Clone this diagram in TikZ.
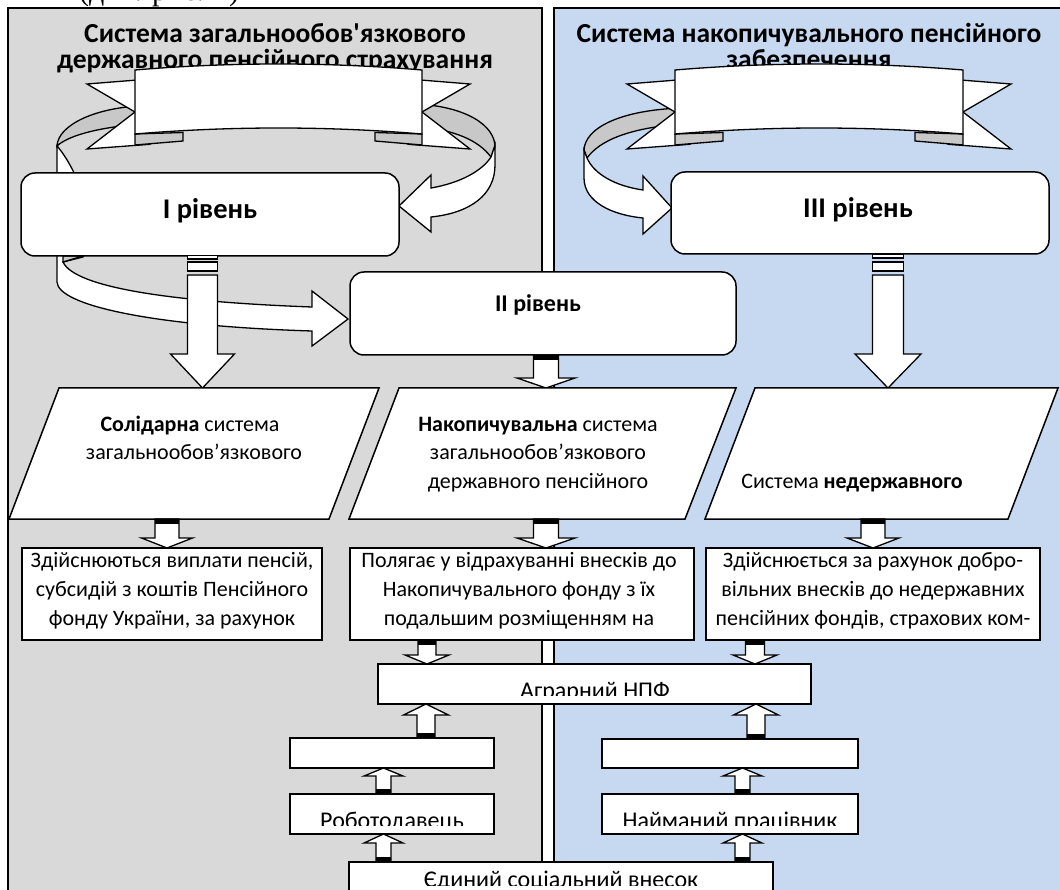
\documentclass[tikz,border=0pt]{standalone}
\usepackage{fontspec}
\setmainfont{Carlito}
\newfontfamily\rawfont{Carlito}
\newfontfamily\serifnote{Liberation Serif}
\usetikzlibrary{calc}
\definecolor{panelgray}{RGB}{217,217,217}
\definecolor{panelblue}{RGB}{198,217,241}
\definecolor{foldgray}{RGB}{200,200,200}
\newcommand{\blkdown}[6]{%
  \path[blk] let \p1=#1, \p2=#2 in
    (\x1-#3pt,\y1) -- (\x1-#3pt,\y2+#5pt) -- (\x1-#4pt,\y2+#5pt) -- (\x1,\y2)
    -- (\x1+#4pt,\y2+#5pt) -- (\x1+#3pt,\y2+#5pt) -- (\x1+#3pt,\y1) -- cycle;
  \fill let \p1=#1 in (\x1-#3pt,\y1) rectangle (\x1+#3pt,\y1-#6pt);}
\newcommand{\blkup}[6]{%
  \path[blk] let \p1=#1, \p2=#2 in
    (\x1-#3pt,\y1) -- (\x1-#3pt,\y2-#5pt) -- (\x1-#4pt,\y2-#5pt) -- (\x1,\y2)
    -- (\x1+#4pt,\y2-#5pt) -- (\x1+#3pt,\y2-#5pt) -- (\x1+#3pt,\y1) -- cycle;
  \fill let \p1=#1 in (\x1-#3pt,\y1) rectangle (\x1+#3pt,\y1+#6pt);}
\begin{document}
\begin{tikzpicture}[x=1pt,y=-1pt,
  box/.style={draw, line width=1.5pt, fill=white, inner sep=0pt, outer sep=0pt},
  rbox/.style={box, rounded corners=14pt},
  rib/.style={draw, line width=1.3pt, fill=white, line join=miter},
  ring/.style={draw, line width=1.3pt, line join=miter},
  blk/.style={draw, line width=1.3pt, fill=white, line join=miter},
  headtxt/.style={font=\bfseries\fontsize{27.5}{27.5}\selectfont, anchor=base, inner sep=0pt},
  lvlbig/.style={font=\bfseries\fontsize{28.5}{28.5}\selectfont, anchor=base, inner sep=0pt},
  lvlsmall/.style={font=\bfseries\fontsize{24}{24}\selectfont, anchor=base, inner sep=0pt},
  ptxt/.style={font=\fontsize{22}{22}\selectfont, anchor=base, inner sep=0pt},
  txt/.style={font=\fontsize{22}{22}\selectfont, anchor=base, inner sep=0pt},
  btxt/.style={font=\fontsize{24}{24}\selectfont, anchor=base, inner sep=0pt},
]
\useasboundingbox (0,0) rectangle (1060,890);
\begin{scope}
\clip (0,0) rectangle (1060,890);
% panels
\draw[fill=panelgray, line width=1.8pt] (8,8) rectangle (542,900);
\draw[fill=panelblue, line width=1.8pt] (554,8) rectangle (1075,900);
% top fragment of text
\node[anchor=base west, inner sep=0pt, font=\serifnote\fontsize{30}{30}\selectfont] (topnote) at (79,1) {(див. рис. 2)};
% headings
\node[headtxt] (h1a) at (275,43) {Система загальнообов{\rawfont'}язкового};
\node[headtxt] (h1b) at (275,69) {державного пенсійного страхування};
\node[headtxt] (h2a) at (809,43) {Система накопичувального пенсійного};
\node[headtxt] (h2b) at (809,69) {забезпечення};

% ===== left ring: back (gray) parts
\draw[ring, fill=foldgray] (140,106) .. controls (95,108) and (58,125) .. (57,146)
   .. controls (68,136) and (95,128) .. (140,124) -- cycle;
\draw[ring, fill=foldgray] (415,104) .. controls (465,106) and (495,125) .. (495,147)
   -- (491,157) .. controls (478,140) and (455,130) .. (415,126) -- cycle;
% left ribbon
\draw[rib] (87,84) -- (150,79) -- (150,144.3) -- (87,149) -- (135,112) -- cycle;
\draw[rib, fill=foldgray] (135,134) -- (183,132.5) -- (183,141) -- (135,145) -- cycle;
\draw[rib] (470,84) -- (408,79) -- (408,144.3) -- (470,149) -- (422,112) -- cycle;
\draw[rib, fill=foldgray] (422,134) -- (375,132.5) -- (375,141) -- (422,145) -- cycle;
\draw[rib] (135,70) .. controls (230,62) and (327,62) .. (422,70) -- (422,134)
   .. controls (327,126) and (230,126) .. (135,134) -- cycle;
\coordinate (ribL) at (278,100);
% left ring: front parts
\draw[ring, fill=white] (57,146) -- (57,282) .. controls (58,305) and (150,326) .. (312,331)
   -- (312,346) -- (348,319) -- (312,291) -- (312,307)
   .. controls (175,302) and (75,288) .. (63,262) -- (83,257) -- (83,200)
   .. controls (80,180) and (66,156) .. (57,146) -- cycle;
\draw[ring, fill=foldgray] (63,256) -- (83,256) -- (63,262) -- cycle;
\draw[ring, fill=white] (495,145) -- (495,165) .. controls (495,195) and (470,213) .. (431,217)
   -- (431,232) -- (399,206) -- (431,175) -- (431,188)
   .. controls (460,183) and (482,171) .. (491,157) -- cycle;

% ===== right ring: back
\draw[ring, fill=foldgray] (682,108) .. controls (620,110) and (585,128) .. (584,150)
   -- (587,158) .. controls (600,140) and (630,128) .. (682,124) -- cycle;
% right ribbon
\draw[rib] (627,84) -- (690,79) -- (690,144.3) -- (627,149) -- (675,112) -- cycle;
\draw[rib, fill=foldgray] (675,134) -- (723,132.5) -- (723,141) -- (675,145) -- cycle;
\draw[rib] (1011,84) -- (948,79) -- (948,144.3) -- (1011,149) -- (963,112) -- cycle;
\draw[rib, fill=foldgray] (963,134) -- (915,132.5) -- (915,141) -- (963,145) -- cycle;
\draw[rib] (675,70) .. controls (771,62) and (867,62) .. (963,70) -- (963,134)
   .. controls (867,126) and (771,126) .. (675,134) -- cycle;
\coordinate (ribR) at (819,100);
% right ring: front
\draw[ring, fill=white] (584,150) -- (584,178) .. controls (584,202) and (612,215) .. (643,218)
   -- (643,234) -- (672,208) -- (643,176) -- (643,190)
   .. controls (615,186) and (594,174) .. (587,158) -- cycle;

% ===== level boxes
\node[rbox, minimum width=378pt, minimum height=83pt] (I) at (210,214.5) {};
\node[lvlbig] (Itxt) at (210,219) {I рівень};
\node[rbox, minimum width=378pt, minimum height=82pt] (III) at (860,213) {};
\node[lvlbig] (IIItxt) at (858,218) {III рівень};
\node[rbox, minimum width=386pt, minimum height=83pt] (II) at (543,313.5) {};
\node[lvlsmall] (IItxt) at (538,312) {II рівень};

% columns
\coordinate (cI) at (202.5,0);
\coordinate (cIII) at (888,0);
\coordinate (cII) at (546,0);
\coordinate (ptop) at (0,388);
\coordinate (pbot) at (0,519);

% segmented stems below I and III
\draw[blk] (187.5,255.5) rectangle (217.5,259);
\draw[blk] (187.5,262) rectangle (217.5,271);
\blkdown{(202.5,275)}{(cI |- ptop)}{15}{32}{34}{0}
\draw[blk] (872.5,254) rectangle (903.5,258);
\draw[blk] (872.5,262) rectangle (903.5,271);
\blkdown{(888,275)}{(cIII |- ptop)}{15.5}{33}{34}{0}
% II arrow
\blkdown{(II.south -| cII)}{(cII |- ptop)}{12.5}{29}{10}{5}

% parallelograms
\path[box] (59,388) -- (379,388) -- (329,519) -- (9,519) -- cycle;
\path[box] (399,388) -- (736,388) -- (685,519) -- (349,519) -- cycle;
\path[box] (755,388) -- (1058,388) -- (1008,519) -- (705,519) -- cycle;
\node[ptxt] (p1a) at (190,431) {\textbf{Солідарна} система};
\node[ptxt] (p1b) at (194,459.5) {загальнообов’язкового};
\node[ptxt] (p2a) at (538,431) {\textbf{Накопичувальна} система};
\node[ptxt] (p2b) at (538,459.5) {загальнообов’язкового};
\node[ptxt] (p2c) at (538,488) {державного пенсійного};
\node[ptxt] (p3a) at (852,488) {Система \textbf{недержавного}};

% text boxes
\node[box, minimum width=300pt, minimum height=92pt] (t1) at (172,594) {};
\node[box, minimum width=344pt, minimum height=92pt] (t2) at (522,594) {};
\node[box, minimum width=334pt, minimum height=92pt] (t3) at (873,594) {};
\node[txt] (t1a) at (172,567) {Здійснюються виплати пенсій,};
\node[txt] (t1b) at (172,596) {субсидій з коштів Пенсійного};
\node[txt] (t1c) at (172,625) {фонду України, за рахунок};
\node[txt] (t2a) at (519,567) {Полягає у відрахуванні внесків до};
\node[txt] (t2b) at (519,596) {Накопичувального фонду з їх};
\node[txt] (t2c) at (519,625) {подальшим розміщенням на};
\node[txt] (t3a) at (873,567) {Здійснюється за рахунок добро-};
\node[txt] (t3b) at (873,596) {вільних внесків до недержавних};
\node[txt] (t3c) at (873,625) {пенсійних фондів, страхових ком-};

\coordinate (c1) at (167,0);
\coordinate (c3) at (873,0);
\blkdown{(c1 |- pbot)}{(t1.north -| c1)}{12}{25.5}{10}{5}
\blkdown{(cII |- pbot)}{(t2.north -| cII)}{12.5}{29}{10}{5}
\blkdown{(c3 |- pbot)}{(t3.north -| c3)}{12}{26}{10}{5}

% bottom boxes
\node[box, minimum width=433pt, minimum height=40pt] (agr) at (594.5,684) {};
\node[box, minimum width=204pt, minimum height=30pt] (e1) at (392,753) {};
\node[box, minimum width=256pt, minimum height=29pt] (e2) at (730,753.5) {};
\node[box, minimum width=204pt, minimum height=40pt] (rob) at (392,814) {};
\node[box, minimum width=256pt, minimum height=40pt] (pr) at (730,814) {};
\node[box, minimum width=424pt, minimum height=30pt] (esv) at (561,877) {};
\begin{scope}
\clip (378,664) rectangle (811,695);
\node[btxt] (agrt) at (595,698.5) {Аграрний НПФ};
\end{scope}
\begin{scope}
\clip (290,794) rectangle (494,825);
\node[btxt] (robt) at (392,828.5) {Роботодавець};
\end{scope}
\begin{scope}
\clip (602,794) rectangle (858,825);
\node[btxt] (prt) at (730,828.5) {Найманий працівник};
\end{scope}
\begin{scope}
\clip (349,862) rectangle (773,885);
\node[btxt] (esvt) at (561,887.5) {Єдиний соціальний внесок};
\end{scope}

\coordinate (ca) at (427,0);
\coordinate (cb) at (755,0);
\coordinate (cu1) at (426,0);
\coordinate (cu2) at (756,0);
\coordinate (cr1) at (383.5,0);
\coordinate (cr2) at (742.5,0);
\blkdown{(t2.south -| ca)}{(agr.north -| ca)}{9}{22}{9}{5}
\blkdown{(t3.south -| cb)}{(agr.north -| cb)}{9.5}{22}{9}{5}
\blkup{(e1.north -| cu1)}{(agr.south -| cu1)}{9}{22.5}{11}{5}
\blkup{(e2.north -| cu2)}{(agr.south -| cu2)}{9}{22.5}{11}{5}
\blkup{(rob.north -| cr1)}{(e1.south -| cr1)}{7.5}{19.5}{8}{5}
\blkup{(pr.north -| cr2)}{(e2.south -| cr2)}{7.5}{19.5}{8}{5}
\blkup{(esv.north -| cr1)}{(rob.south -| cr1)}{7.5}{19.5}{9}{5}
\blkup{(esv.north -| cr2)}{(pr.south -| cr2)}{7.5}{19.5}{9}{5}
\end{scope}
\end{tikzpicture}
\end{document}
